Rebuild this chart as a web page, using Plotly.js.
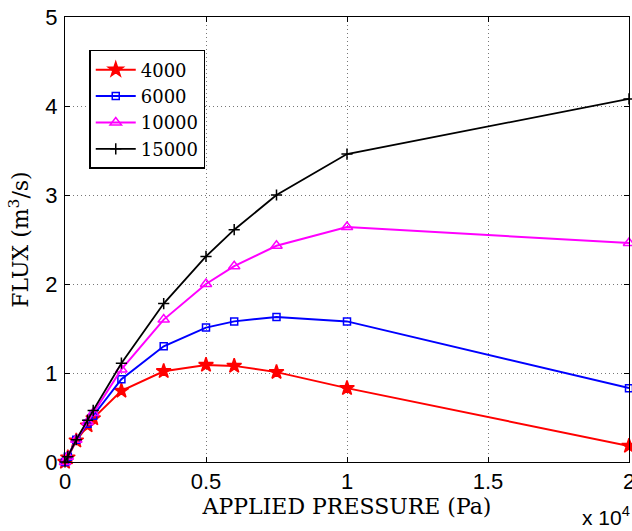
<!DOCTYPE html>
<html><head><meta charset="utf-8">
<script src="https://cdn.plot.ly/plotly-3.0.1.min.js"></script>
<style>html,body{margin:0;padding:0;background:#fff}#chart{width:632px;height:531px}</style>
</head><body><div id="chart"></div>
<script>
const pressure = [0, 100, 400, 800, 1000, 2000, 3500, 5000, 6000, 7500, 10000, 20000];
const flux4000  = [0, 0.05, 0.24, 0.41, 0.49, 0.80, 1.02, 1.09, 1.08, 1.01, 0.83, 0.18];
const flux6000  = [0, 0.06, 0.25, 0.43, 0.52, 0.93, 1.30, 1.51, 1.58, 1.63, 1.58, 0.83];
const flux10000 = [0, 0.06, 0.25, 0.45, 0.55, 1.04, 1.60, 2.00, 2.20, 2.43, 2.64, 2.46];
const flux15000 = [0, 0.06, 0.25, 0.47, 0.58, 1.11, 1.78, 2.31, 2.61, 3.00, 3.46, 4.08];
const seriesNames = ['4000', '6000', '10000', '15000'];
const xTickVals = [0, 5000, 10000, 15000, 20000];
const xTickText = ['0', '0.5', '1', '1.5', '2'];
const yTickVals = [0, 1, 2, 3, 4, 5];

const serif = 'DejaVu Serif, Liberation Serif, serif';
const sans = 'Liberation Sans, Arial, sans-serif';

const styles = [
  {color: '#ff0000', symbol: 'star', size: 11, lw: 2},
  {color: '#0000ff', symbol: 'square-open', size: 7, lw: 2},
  {color: '#ff00ff', symbol: 'triangle-up-open', size: 10, lw: 2},
  {color: '#000000', symbol: 'cross-thin-open', size: 8, lw: 1.8}
];
const ys = [flux4000, flux6000, flux10000, flux15000];
const traces = ys.map((y, i) => ({
  x: pressure, y: y, name: seriesNames[i], type: 'scatter', mode: 'lines+markers',
  line: {color: styles[i].color, width: styles[i].lw},
  marker: {symbol: styles[i].symbol, size: styles[i].size, color: styles[i].color,
           line: {color: styles[i].color, width: 1.5}},
  cliponaxis: false
}));

const layout = {
  width: 632, height: 531,
  margin: {l: 65, r: 3, t: 17, b: 69},
  paper_bgcolor: '#fff', plot_bgcolor: '#fff',
  showlegend: true,
  legend: {x: 0.043, y: 0.926, xanchor: 'left', yanchor: 'top',
           bgcolor: '#fff', bordercolor: '#000', borderwidth: 1.5,
           font: {family: serif, size: 18, color: '#000'},
           tracegroupgap: 0, itemwidth: 40},
  xaxis: {range: [0, 20000], tickvals: xTickVals, ticktext: xTickText,
          showline: true, linecolor: '#000', linewidth: 1, mirror: 'ticks',
          ticks: 'inside', ticklen: 5, tickcolor: '#000',
          showgrid: true, gridcolor: '#777', griddash: '1px,3px', gridwidth: 1,
          zeroline: false, tickfont: {family: sans, size: 22, color: '#000'},
          ticklabeloverflow: 'allow',
          title: {text: 'APPLIED PRESSURE (Pa)', font: {family: serif, size: 22, color: '#000'}, standoff: 4}},
  yaxis: {range: [0, 5], tickvals: yTickVals,
          showline: true, linecolor: '#000', linewidth: 1, mirror: 'ticks',
          ticks: 'inside', ticklen: 5, tickcolor: '#000',
          showgrid: true, gridcolor: '#777', griddash: '1px,3px', gridwidth: 1,
          zeroline: false, tickfont: {family: sans, size: 22, color: '#000'},
          ticklabelstandoff: 2, ticklabeloverflow: 'allow',
          title: {text: 'FLUX (m<sup>3</sup>/s)', font: {family: serif, size: 22, color: '#000'}, standoff: 10}},
  annotations: [{xref: 'paper', yref: 'paper', x: 1.005, y: -0.155, xanchor: 'right', yanchor: 'bottom',
                 text: 'x 10<sup>4</sup>', showarrow: false,
                 font: {family: sans, size: 21, color: '#000'}}]
};
Plotly.newPlot('chart', traces, layout, {displayModeBar: false, staticPlot: true});
</script></body></html>
